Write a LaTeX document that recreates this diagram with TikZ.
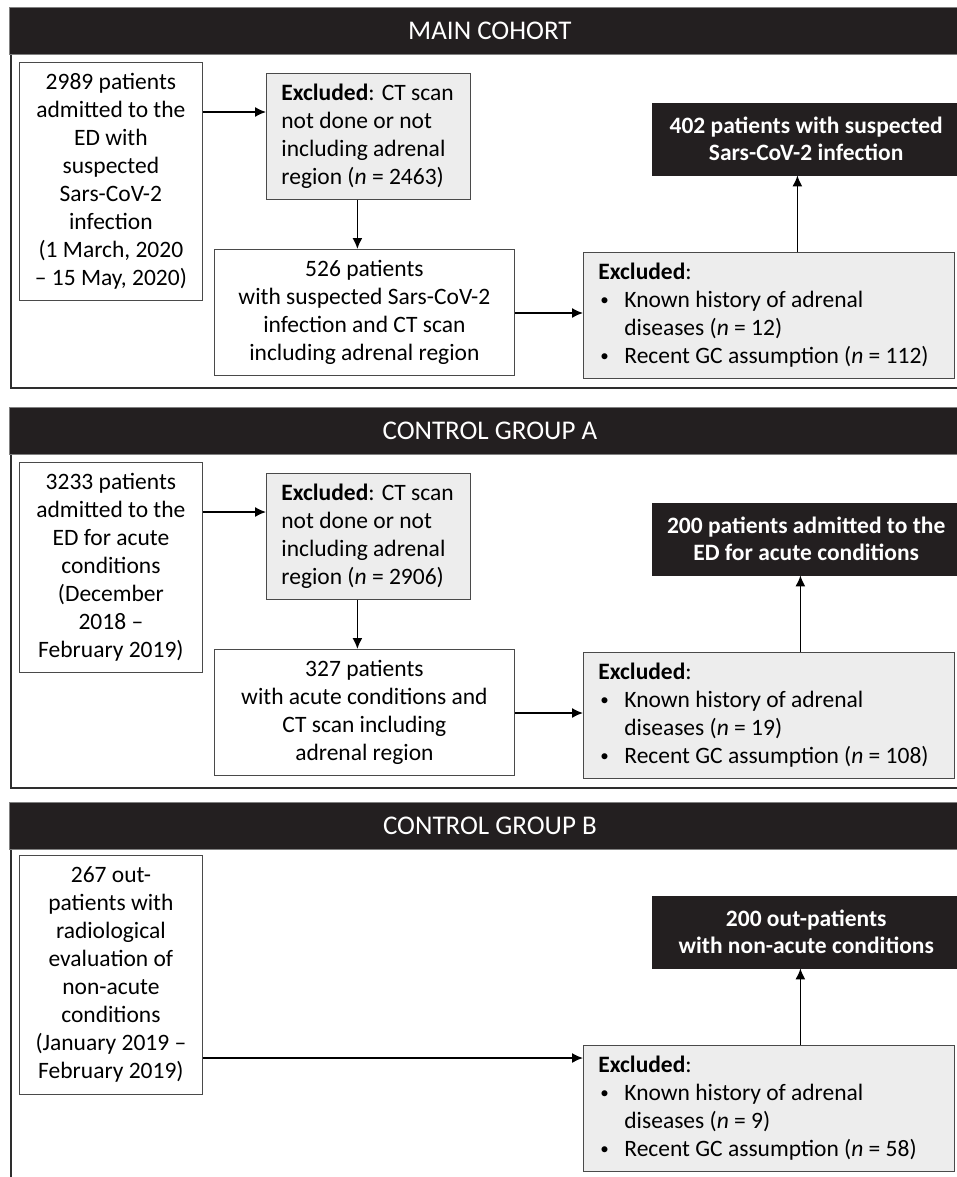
\documentclass[tikz,border=0pt]{standalone}
\usepackage{fontspec}
\setmainfont{Carlito}
\usetikzlibrary{arrows.meta,positioning,calc}
\definecolor{hdr}{HTML}{231F20}
\definecolor{boxline}{HTML}{4A4A4A}
\definecolor{exfill}{HTML}{EDEDED}
\definecolor{frameline}{HTML}{2E2E2E}
\tikzset{
  basefont/.style={font=\fontsize{23.5}{28}\selectfont},
  wbox/.style={draw=boxline, fill=white, line width=0.8pt, anchor=north west,
    inner sep=0pt, align=center, basefont},
  gbox/.style={draw=boxline, fill=exfill, line width=0.8pt, anchor=north west,
    inner xsep=15pt, inner ysep=0pt, align=flush left, basefont},
  rbox/.style={draw=hdr, fill=hdr, text=white, anchor=north west, inner sep=0pt,
    align=center, font=\fontsize{23.5}{27}\selectfont\bfseries},
  header/.style={draw=gray, fill=hdr, text=white, anchor=north west, inner sep=0pt,
    line width=0.8pt, font=\fontsize{27}{30}\selectfont},
  arr/.style={-{Latex[length=11pt,width=10pt]}, line width=1.5pt, draw=black},
  frame/.style={draw=frameline, line width=2.2pt},
}
\newcommand{\bul}{\hspace*{2pt}\makebox[24pt][l]{\raisebox{2pt}{\fontsize{17}{17}\selectfont\textbullet}}}
\newcommand{\ind}{\hspace*{26pt}}
\begin{document}
\begin{tikzpicture}[x=1pt,y=-1pt]
\useasboundingbox (0,0) rectangle (957,1177);
\clip (0,0) rectangle (957,1177);
\fill[white] (0,0) rectangle (957,1177);

% ===== MAIN COHORT =====
\draw[frame] (11,54) -- (11,388) -- (975,388);
\node[header, minimum width=961pt, minimum height=47pt] (H1) at (9,7) {MAIN COHORT};

\node[wbox, minimum width=183pt, minimum height=238pt] (A1) at (19,62)
  {2989 patients\\admitted to the\\ED with\\suspected\\Sars-CoV-2\\infection\\(1 March, 2020\\– 15 May, 2020)};
\node[gbox, text width=174pt, minimum height=126pt] (E1) at (266,73)
  {\textbf{Excluded}: CT scan\\not done or not\\including adrenal\\region (\textit{n} = 2463)};
\node[wbox, minimum width=300pt, minimum height=126pt] (B1) at (214,249)
  {526 patients\\with suspected Sars-CoV-2\\infection and CT scan\\including adrenal region};
\node[gbox, text width=341pt, minimum height=126pt] (F1) at (583,252)
  {\textbf{Excluded}:\\\bul Known history of adrenal\\\ind diseases (\textit{n} = 12)\\\bul Recent GC assumption (\textit{n} = 112)};
\node[rbox, minimum width=308pt, minimum height=72pt] (R1) at (652,103)
  {402 patients with suspected\\Sars-CoV-2 infection};

\draw[arr] ([yshift=-50pt]A1.north east) -- ([yshift=-50pt]A1.north east -| E1.west);
\draw[arr] ([xshift=-11pt]E1.south) -- ([xshift=-11pt]E1.south |- B1.north);
\draw[arr] ([yshift=-64pt]B1.north east) -- ([yshift=-64pt]B1.north east -| F1.west);
\draw[arr] ([xshift=28.5pt]F1.north) -- ([xshift=28.5pt]F1.north |- R1.south);

% ===== CONTROL GROUP A =====
\draw[frame] (11,454) -- (11,788) -- (975,788);
\node[header, minimum width=961pt, minimum height=47pt] (H2) at (9,407) {CONTROL GROUP A};

\node[wbox, minimum width=183pt, minimum height=210pt] (A2) at (19,462)
  {3233 patients\\admitted to the\\ED for acute\\conditions\\(December\\2018 –\\February 2019)};
\node[gbox, text width=174pt, minimum height=126pt] (E2) at (266,473)
  {\textbf{Excluded}: CT scan\\not done or not\\including adrenal\\region (\textit{n} = 2906)};
\node[wbox, minimum width=300pt, minimum height=126pt] (B2) at (214,649)
  {327 patients\\with acute conditions and\\CT scan including\\adrenal region};
\node[gbox, text width=341pt, minimum height=126pt] (F2) at (583,652)
  {\textbf{Excluded}:\\\bul Known history of adrenal\\\ind diseases (\textit{n} = 19)\\\bul Recent GC assumption (\textit{n} = 108)};
\node[rbox, minimum width=308pt, minimum height=72pt] (R2) at (652,503)
  {200 patients admitted to the\\ED for acute conditions};

\draw[arr] ([yshift=-50pt]A2.north east) -- ([yshift=-50pt]A2.north east -| E2.west);
\draw[arr] ([xshift=-11pt]E2.south) -- ([xshift=-11pt]E2.south |- B2.north);
\draw[arr] ([yshift=-64pt]B2.north east) -- ([yshift=-64pt]B2.north east -| F2.west);
\draw[arr] ([xshift=31.5pt]F2.north) -- ([xshift=31.5pt]F2.north |- R2.south);

% ===== CONTROL GROUP B =====
\draw[frame] (11,849) -- (11,1185);
\node[header, minimum width=961pt, minimum height=47pt] (H3) at (9,802) {CONTROL GROUP B};

\node[wbox, minimum width=183pt, minimum height=239pt] (A3) at (19,855)
  {267 out-\\patients with\\radiological\\evaluation of\\non-acute\\conditions\\(January 2019 –\\February 2019)};
\node[gbox, text width=341pt, minimum height=126pt] (F3) at (583,1045)
  {\textbf{Excluded}:\\\bul Known history of adrenal\\\ind diseases (\textit{n} = 9)\\\bul Recent GC assumption (\textit{n} = 58)};
\node[rbox, minimum width=308pt, minimum height=72pt] (R3) at (652,896)
  {200 out-patients\\with non-acute conditions};

\draw[arr] ([yshift=-203pt]A3.north east) -- ([yshift=-203pt]A3.north east -| F3.west);
\draw[arr] ([xshift=31.5pt]F3.north) -- ([xshift=31.5pt]F3.north |- R3.south);
\end{tikzpicture}
\end{document}
